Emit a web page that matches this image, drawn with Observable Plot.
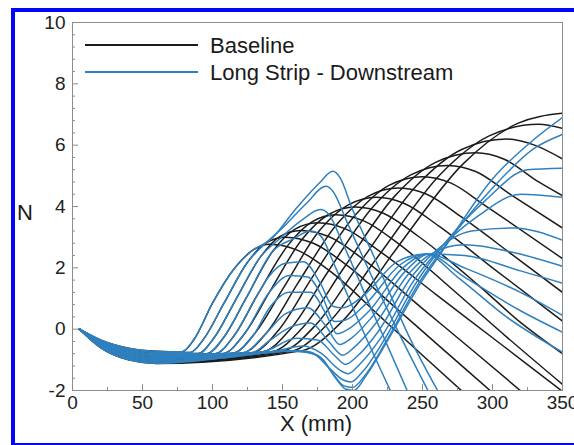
<!DOCTYPE html>
<html>
<head>
<meta charset="utf-8">
<script src="https://cdn.jsdelivr.net/npm/d3@7"></script>
<script src="https://cdn.jsdelivr.net/npm/@observablehq/plot@0.6"></script>
<style>
  body { margin: 0; background: #fff; }
  #wrap { position: relative; width: 574px; height: 445px; overflow: hidden; font-family: 'Liberation Sans', Arial, sans-serif; }
  #border { position: absolute; left: 11px; top: 8px; width: 600px; height: 431px; border: 4px solid #0505f5; }
  #chart { position: absolute; left: 0; top: 0; }
  .lbl { position: absolute; color: #1a1a1a; white-space: nowrap; line-height: 1; }
  #legend { position: absolute; left: 0; top: 0; }
</style>
</head>
<body>
<div id="wrap">
  <div id="border"></div>
  <div id="chart"></div>
  <svg id="legend" width="574" height="100"></svg>
  <div class="lbl" style="left:17px;top:202px;font-size:22px;">N</div>
  <div class="lbl" style="left:280px;top:413px;font-size:22px;">X (mm)</div>
</div>
<script>
// ---- tick labels ----
const xMajor = [0, 50, 100, 150, 200, 250, 300, 350];
const xMinor = [25, 75, 125, 175, 225, 275, 325];
const yMajor = [-2, 0, 2, 4, 6, 8, 10];
const yMinor = [-1.6, -1.2, -0.8, -0.4, 0.4, 0.8, 1.2, 1.6, 2.4, 2.8, 3.2, 3.6, 4.4, 4.8, 5.2, 5.6, 6.4, 6.8, 7.2, 7.6, 8.4, 8.8, 9.2, 9.6];

const seriesNames = ["Baseline", "Long Strip - Downstream"];
const seriesColors = ["#1c1c1c", "#2f80bf"];

// ---- Baseline N-factor curves (X mm, N) ----
const base1  = [[5,0],[20,-0.35],[40,-0.62],[60,-0.72],[78,-0.74],[87,-0.32],[100,0.85],[116,2.0],[128,2.55],[141,2.77],[161,2.57],[186,1.82],[220,0.4],[250,-0.85],[285,-2.3]];
const base2  = [[5,0],[20,-0.37],[40,-0.65],[60,-0.76],[84,-0.76],[94,-0.3],[108,0.83],[125,2.18],[138,2.81],[152,3.0],[172,2.8],[197,2.05],[230,0.73],[260,-0.47],[300,-2.07]];
const base3  = [[5,0],[20,-0.39],[40,-0.68],[60,-0.8],[90,-0.79],[101,-0.29],[116,0.91],[134,2.34],[148,3.02],[163,3.22],[183,3.02],[208,2.27],[250,0.67],[290,-0.85],[325,-2.2]];
const base4  = [[5,0],[20,-0.41],[40,-0.71],[60,-0.83],[96,-0.8],[108,-0.27],[124,1.01],[143,2.54],[159,3.26],[175,3.47],[195,3.27],[220,2.52],[260,1.12],[300,-0.28],[350,-2.03]];
const base5  = [[5,0],[20,-0.43],[40,-0.74],[60,-0.86],[102,-0.8],[115,-0.24],[132,1.11],[154,2.74],[171,3.5],[188,3.73],[208,3.53],[233,2.78],[270,1.35],[310,-0.25],[350,-1.8]];
const base6  = [[5,0],[20,-0.45],[40,-0.77],[60,-0.89],[108,-0.79],[122,-0.2],[141,1.23],[164,2.93],[183,3.74],[202,3.98],[222,3.78],[247,3.03],[290,1.43],[320,0.22],[350,-0.8]];
const base7  = [[5,0],[20,-0.47],[40,-0.8],[60,-0.93],[115,-0.78],[130,-0.15],[151,1.37],[176,3.19],[197,4.05],[217,4.3],[237,4.1],[262,3.35],[300,2.0],[350,0.26]];
const base8  = [[5,0],[20,-0.49],[40,-0.83],[60,-0.96],[122,-0.77],[139,-0.1],[161,1.5],[189,3.43],[211,4.33],[233,4.6],[253,4.4],[278,3.65],[315,2.4],[350,1.2]];
const base9  = [[5,0],[20,-0.51],[40,-0.86],[60,-0.99],[129,-0.76],[147,-0.04],[171,1.67],[202,3.72],[226,4.69],[250,4.97],[270,4.77],[295,4.02],[350,2.3]];
const base10 = [[5,0],[20,-0.53],[40,-0.89],[60,-1.02],[136,-0.74],[156,0.02],[182,1.84],[215,4.01],[242,5.04],[268,5.34],[288,5.14],[313,4.39],[350,3.3]];
const base11 = [[5,0],[20,-0.55],[40,-0.92],[60,-1.05],[143,-0.73],[165,0.08],[194,2.01],[230,4.33],[259,5.43],[288,5.75],[308,5.55],[333,4.8],[350,4.35]];
const base12 = [[5,0],[20,-0.57],[40,-0.95],[60,-1.08],[150,-0.72],[174,0.15],[206,2.21],[246,4.69],[278,5.86],[310,6.2],[330,6.0],[350,5.55]];
const base13 = [[5,0],[20,-0.59],[40,-0.98],[60,-1.1],[157,-0.71],[183,0.21],[219,2.42],[263,5.06],[298,6.31],[333,6.68],[350,6.55]];
const base14 = [[5,0],[20,-0.6],[40,-1.0],[60,-1.12],[164,-0.7],[193,0.27],[231,2.6],[279,5.39],[318,6.71],[350,7.04]];

// ---- Long strip: same as baseline up to a cut, then its own values ----
const stripCut = [128, 138, 134, 143, 132, 141, 130, 139, 129, 136, 143, 150, 157, 164];
const strip1  = [[141,2.9],[160,3.95],[176,4.75],[186,5.15],[191,4.95],[200,3.9],[215,2.4],[240,-0.2],[262,-2.1]];
const strip2  = [[150,3.3],[167,4.1],[181,4.66],[186,4.5],[196,3.5],[215,1.6],[235,-0.3],[255,-2.1]];
const strip3  = [[148,2.95],[165,3.6],[177,3.9],[183,3.75],[193,2.8],[215,0.5],[240,-2.1]];
const strip4  = [[158,2.95],[170,3.2],[177,3.05],[188,2.0],[205,0.2],[228,-2.1]];
const strip5  = [[140,1.7],[152,2.15],[165,2.2],[177,1.5],[186,0.75],[193,0.7],[208,1.1],[232,2.2],[252,2.45],[275,1.7],[310,0.4],[350,-0.75]];
const strip6  = [[155,1.75],[168,1.7],[179,1.0],[187,0.25],[195,0.3],[210,0.85],[234,2.1],[253,2.45],[280,1.7],[320,0.6],[350,-0.1]];
const strip7  = [[140,0.65],[155,1.2],[170,1.2],[181,0.5],[189,-0.15],[197,0.0],[212,0.6],[236,2.0],[254,2.45],[280,2.0],[320,1.2],[350,0.45]];
const strip8  = [[152,0.5],[168,0.7],[181,0.1],[191,-0.5],[199,-0.3],[214,0.4],[238,1.9],[255,2.45],[280,2.4],[320,1.9],[350,1.5]];
const strip9  = [[140,-0.4],[155,0.05],[170,0.2],[183,-0.4],[193,-0.85],[201,-0.6],[216,0.15],[240,1.8],[256,2.45],[280,2.75],[315,2.5],[350,2.05]];
const strip10 = [[160,-0.3],[175,-0.35],[187,-0.85],[195,-1.15],[203,-0.9],[218,-0.1],[242,1.7],[257,2.45],[285,3.2],[315,3.3],[350,2.9]];
const strip11 = [[165,-0.55],[178,-0.8],[190,-1.3],[197,-1.45],[205,-1.15],[220,-0.3],[244,1.6],[258,2.4],[290,3.7],[320,4.4],[350,4.3]];
const strip12 = [[170,-0.75],[183,-1.25],[193,-1.65],[199,-1.72],[207,-1.4],[222,-0.4],[246,1.55],[259,2.4],[295,4.2],[325,5.2],[350,5.25]];
const strip13 = [[175,-0.85],[186,-1.45],[194,-1.85],[200,-1.9],[209,-1.5],[224,-0.4],[248,1.55],[261,2.4],[300,4.6],[330,5.9],[350,6.35]];
const strip14 = [[178,-0.95],[188,-1.6],[195,-1.95],[201,-2.0],[210,-1.5],[226,-0.3],[250,1.6],[262,2.4],[300,4.9],[330,6.2],[350,6.9]];

const baseCurves = [base1, base2, base3, base4, base5, base6, base7, base8, base9, base10, base11, base12, base13, base14];
const stripTails = [strip1, strip2, strip3, strip4, strip5, strip6, strip7, strip8, strip9, strip10, strip11, strip12, strip13, strip14];

const rows = [];
baseCurves.forEach((c, i) => c.forEach(([x, n]) => rows.push({x, n, id: "b" + i, series: seriesNames[0]})));
baseCurves.forEach((c, i) => {
  const pts = c.filter(p => p[0] <= stripCut[i]).concat(stripTails[i]);
  pts.forEach(([x, n]) => rows.push({x, n, id: "s" + i, series: seriesNames[1]}));
});

const axisColor = "#8c8c8c";
const plot = Plot.plot({
  width: 574, height: 445,
  marginLeft: 72, marginRight: 12, marginTop: 22, marginBottom: 55,
  style: {fontFamily: "'Liberation Sans', Arial, sans-serif", fontSize: "19px", color: "#222", background: "transparent", overflow: "visible"},
  x: {domain: [0, 350], label: null},
  y: {domain: [-2, 10], label: null},
  color: {domain: seriesNames, range: seriesColors},
  marks: [
    Plot.line(rows.filter(d => d.series === seriesNames[0]), {x: "x", y: "n", z: "id", stroke: "series", strokeWidth: 1.5, curve: "monotone-x", clip: true}),
    Plot.line(rows.filter(d => d.series === seriesNames[1]), {x: "x", y: "n", z: "id", stroke: "series", strokeWidth: 1.5, curve: "monotone-x", clip: true}),
    Plot.frame({stroke: axisColor}),
    Plot.axisX({ticks: xMajor, tickSize: -6, tickFormat: () => "", stroke: axisColor}),
    Plot.axisX({ticks: xMinor, tickSize: -3, tickFormat: () => "", stroke: axisColor}),
    Plot.axisX({ticks: xMajor, tickSize: 0, tickPadding: 5, tickFormat: d => String(d), fontSize: 19, fill: "#222"}),
    Plot.axisY({ticks: yMajor, tickSize: -6, tickFormat: () => "", stroke: axisColor}),
    Plot.axisY({ticks: yMinor, tickSize: -3, tickFormat: () => "", stroke: axisColor}),
    Plot.axisY({ticks: yMajor, tickSize: 0, tickPadding: 7, tickFormat: d => String(d), fontSize: 19, fill: "#222"})
  ]
});
document.getElementById("chart").appendChild(plot);

// ---- legend ----
const lg = d3.select("#legend");
seriesNames.forEach((name, i) => {
  const y = 45 + i * 27;
  lg.append("line").attr("x1", 85).attr("x2", 198).attr("y1", y).attr("y2", y)
    .attr("stroke", seriesColors[i]).attr("stroke-width", 2);
  lg.append("text").attr("x", 210).attr("y", y + 8).text(name)
    .attr("font-family", "'Liberation Sans', Arial, sans-serif").attr("font-size", 22).attr("fill", "#1a1a1a");
});
</script>
</body>
</html>
